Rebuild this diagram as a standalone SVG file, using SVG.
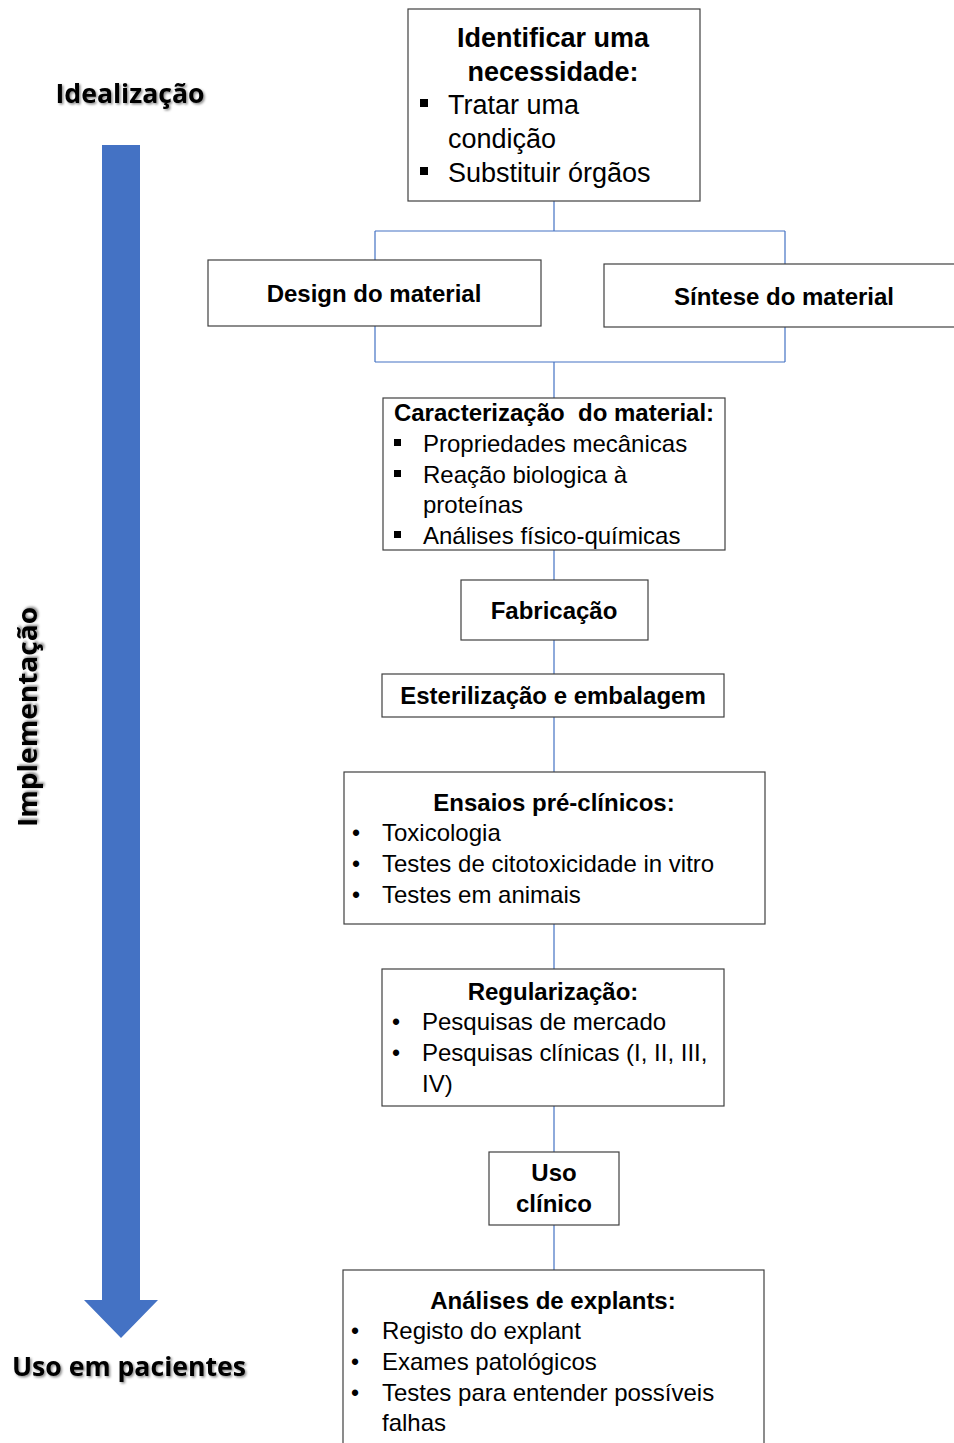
<svg xmlns="http://www.w3.org/2000/svg" width="954" height="1443" viewBox="0 0 954 1443">
<defs>
<style>
.box{fill:#fff;stroke:#404040;stroke-width:1.2}
.t{font-family:"Liberation Sans",Arial,sans-serif;fill:#000}
.b{font-weight:bold}
.c{text-anchor:middle}
.side{font-family:"Open Sans","Liberation Sans",sans-serif;font-weight:bold;fill:#000;filter:url(#sh)}
.conn{fill:none;stroke:#4472C4;stroke-width:1.2}
</style>
<filter id="sh" x="-10%" y="-30%" width="120%" height="160%">
<feDropShadow dx="1.5" dy="1.5" stdDeviation="1.2" flood-color="#000" flood-opacity="0.45"/>
</filter>
</defs>
<rect width="954" height="1443" fill="#fff"/>

<g id="timeline">
<path d="M102 145 H140 V1300 H158 L121 1338 L84 1300 H102 Z" fill="#4472C4"/>
<text class="side" x="130" y="103" font-size="27" text-anchor="middle" textLength="149" lengthAdjust="spacingAndGlyphs">Idealização</text>
<text class="side" x="129" y="1376" font-size="27" text-anchor="middle" textLength="234" lengthAdjust="spacingAndGlyphs">Uso em pacientes</text>
<text class="side" transform="translate(37,717) rotate(-90)" x="0" y="0" font-size="27" text-anchor="middle" textLength="220" lengthAdjust="spacingAndGlyphs">Implementação</text>
</g>

<g id="connectors">
<path class="conn" d="M554 201 V231 M375 231 H785 M375 231 V260 M785 231 V264"/>
<path class="conn" d="M375 326 V362 M785 327 V362 M375 362 H785 M554 362 V398"/>
<path class="conn" d="M554 550 V580 M554 640 V674 M554 717 V772 M554 924 V969 M554 1106 V1152 M554 1225 V1270"/>
</g>

<g id="n1">
<rect class="box" x="408" y="9" width="292" height="192"/>
<text class="t b c" x="553" y="47" font-size="27">Identificar uma</text>
<text class="t b c" x="553" y="81" font-size="27">necessidade:</text>
<rect x="420" y="99" width="8" height="8" fill="#000"/>
<text class="t" x="448" y="114" font-size="27">Tratar uma</text>
<text class="t" x="448" y="148" font-size="27">condição</text>
<rect x="420" y="167" width="8" height="8" fill="#000"/>
<text class="t" x="448" y="182" font-size="27">Substituir órgãos</text>
</g>

<g id="n2">
<rect class="box" x="208" y="260" width="333" height="66"/>
<text class="t b c" x="374" y="302" font-size="24">Design do material</text>
</g>

<g id="n3">
<rect class="box" x="604" y="264" width="360" height="63"/>
<text class="t b c" x="784" y="305" font-size="24">Síntese do material</text>
</g>

<g id="n4">
<rect class="box" x="383" y="398" width="342" height="152"/>
<text class="t b c" x="554" y="421" font-size="24" xml:space="preserve">Caracterização  do material:</text>
<rect x="394" y="439" width="7" height="7" fill="#000"/>
<text class="t" x="423" y="452" font-size="24">Propriedades mecânicas</text>
<rect x="394" y="470" width="7" height="7" fill="#000"/>
<text class="t" x="423" y="483" font-size="24">Reação biologica à</text>
<text class="t" x="423" y="513" font-size="24">proteínas</text>
<rect x="394" y="531" width="7" height="7" fill="#000"/>
<text class="t" x="423" y="544" font-size="24">Análises físico-químicas</text>
</g>

<g id="n5">
<rect class="box" x="461" y="580" width="187" height="60"/>
<text class="t b c" x="554" y="619" font-size="24">Fabricação</text>
</g>

<g id="n6">
<rect class="box" x="382" y="674" width="342" height="43"/>
<text class="t b c" x="553" y="704" font-size="24">Esterilização e embalagem</text>
</g>

<g id="n7">
<rect class="box" x="344" y="772" width="421" height="152"/>
<text class="t b c" x="554" y="811" font-size="24">Ensaios pré-clínicos:</text>
<text class="t" x="352" y="841" font-size="23">•</text>
<text class="t" x="382" y="841" font-size="24">Toxicologia</text>
<text class="t" x="352" y="872" font-size="23">•</text>
<text class="t" x="382" y="872" font-size="24">Testes de citotoxicidade in vitro</text>
<text class="t" x="352" y="903" font-size="23">•</text>
<text class="t" x="382" y="903" font-size="24">Testes em animais</text>
</g>

<g id="n8">
<rect class="box" x="382" y="969" width="342" height="137"/>
<text class="t b c" x="553" y="1000" font-size="24">Regularização:</text>
<text class="t" x="392" y="1030" font-size="23">•</text>
<text class="t" x="422" y="1030" font-size="24">Pesquisas de mercado</text>
<text class="t" x="392" y="1061" font-size="23">•</text>
<text class="t" x="422" y="1061" font-size="24">Pesquisas clínicas (I, II, III,</text>
<text class="t" x="422" y="1092" font-size="24">IV)</text>
</g>

<g id="n9">
<rect class="box" x="489" y="1152" width="130" height="73"/>
<text class="t b c" x="554" y="1181" font-size="24">Uso</text>
<text class="t b c" x="554" y="1212" font-size="24">clínico</text>
</g>

<g id="n10">
<rect class="box" x="343" y="1270" width="421" height="185"/>
<text class="t b c" x="553" y="1309" font-size="24">Análises de explants:</text>
<text class="t" x="351" y="1339" font-size="23">•</text>
<text class="t" x="382" y="1339" font-size="24">Registo do explant</text>
<text class="t" x="351" y="1370" font-size="23">•</text>
<text class="t" x="382" y="1370" font-size="24">Exames patológicos</text>
<text class="t" x="351" y="1401" font-size="23">•</text>
<text class="t" x="382" y="1401" font-size="24">Testes para entender possíveis</text>
<text class="t" x="382" y="1431" font-size="24">falhas</text>
</g>
</svg>
